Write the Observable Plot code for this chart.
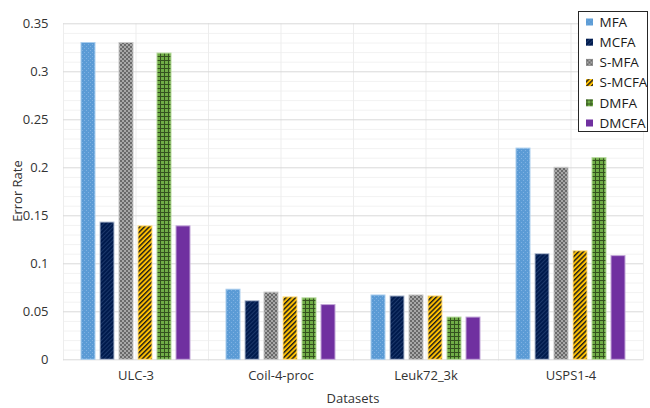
<!DOCTYPE html>
<html><head><meta charset="utf-8">
<script src="https://cdn.jsdelivr.net/npm/d3@7"></script>
<script src="https://cdn.jsdelivr.net/npm/@observablehq/plot@0.6"></script>
<style>
body{margin:0;background:#fff}
#chart{width:650px;height:408px}
</style>
</head><body><div id="chart"></div>
<script>
const datasets = ["ULC-3", "Coil-4-proc", "Leuk72_3k", "USPS1-4"];
const methods = ["MFA", "MCFA", "S-MFA", "S-MCFA", "DMFA", "DMCFA"];
const MFA    = [0.330, 0.073, 0.067, 0.220];
const MCFA   = [0.143, 0.061, 0.066, 0.110];
const S_MFA  = [0.330, 0.070, 0.067, 0.200];
const S_MCFA = [0.139, 0.065, 0.066, 0.113];
const DMFA   = [0.319, 0.064, 0.044, 0.210];
const DMCFA  = [0.139, 0.057, 0.044, 0.108];
const yTicks = [0, 0.05, 0.1, 0.15, 0.2, 0.25, 0.3, 0.35];
const yTickLabels = ["0", "0.05", "0.1", "0.15", "0.2", "0.25", "0.3", "0.35"];
const minorTicks = d3.range(0, 36).map(i => i / 100).filter(v => Math.round(v * 100) % 5 !== 0);

const series = [MFA, MCFA, S_MFA, S_MCFA, DMFA, DMCFA];
const rows = [];
datasets.forEach((ds, i) => methods.forEach((m, j) => rows.push({dataset: ds, method: m, value: series[j][i]})));

const fills = {
  "MFA": "url(#p-mfa)", "MCFA": "url(#p-mcfa)", "S-MFA": "url(#p-smfa)",
  "S-MCFA": "url(#p-smcfa)", "DMFA": "url(#p-dmfa)", "DMCFA": "#7030a0"
};
const strokes = {
  "MFA": "#a9cdee", "MCFA": "#b4bfd3", "S-MFA": "#c8c8c8",
  "S-MCFA": "#ffe08a", "DMFA": "#b5d99a", "DMCFA": "#c2a6d8"
};

const plot = Plot.plot({
  width: 650, height: 408,
  marginLeft: 63, marginRight: 7, marginTop: 23.3, marginBottom: 48.7,
  style: {fontFamily: "'Open Sans', sans-serif", fontSize: "13px", color: "#333333", background: "#fff", overflow: "visible"},
  fx: {domain: datasets, padding: 0, label: null, axis: null},
  x: {domain: methods, paddingInner: 0.25, paddingOuter: 0.875, axis: null},
  y: {domain: [0, 0.35], axis: null},
  marks: [
    Plot.ruleY(minorTicks, {stroke: "#f2f2f2", strokeWidth: 1}),
    Plot.frame({anchor: "left", stroke: "#ededed"}),
    Plot.frame({anchor: "right", stroke: "#ededed"}),
    Plot.ruleX({length: 1}, {x: null, stroke: "#ededed"}),
    Plot.ruleY(yTicks, {stroke: "#d9d9d9", strokeWidth: 1}),
    Plot.axisY({ticks: yTicks, tickFormat: (d) => yTickLabels[yTicks.indexOf(d)], tickSize: 0, tickPadding: 15, label: null, fontSize: 13}),
    Plot.axisFx({anchor: "bottom", tickSize: 0, tickPadding: 11, label: null, fontSize: 13}),
    Plot.barY(rows, {fx: "dataset", x: "method", y: "value", fill: d => fills[d.method], stroke: d => strokes[d.method], strokeWidth: 1})
  ]
});

const svg = d3.select(plot);
const defs = svg.insert("defs", ":first-child");
// MFA: blue with fine light dots
let p = defs.append("pattern").attr("id", "p-mfa").attr("patternUnits", "userSpaceOnUse").attr("width", 4).attr("height", 4);
p.append("rect").attr("width", 4).attr("height", 4).attr("fill", "#5b9bd5");
p.append("rect").attr("x", 0).attr("y", 0).attr("width", 1).attr("height", 1).attr("fill", "#7fb1e2");
p.append("rect").attr("x", 2).attr("y", 2).attr("width", 1).attr("height", 1).attr("fill", "#7fb1e2");
// MCFA: navy with diagonal stripes
p = defs.append("pattern").attr("id", "p-mcfa").attr("patternUnits", "userSpaceOnUse").attr("width", 3).attr("height", 3).attr("patternTransform", "rotate(45)");
p.append("rect").attr("width", 3).attr("height", 3).attr("fill", "#001a4d");
p.append("rect").attr("width", 1).attr("height", 3).attr("fill", "#1c386b");
// S-MFA: gray checkerboard
p = defs.append("pattern").attr("id", "p-smfa").attr("patternUnits", "userSpaceOnUse").attr("width", 4).attr("height", 4);
p.append("rect").attr("width", 4).attr("height", 4).attr("fill", "#a8a8a8");
p.append("rect").attr("width", 2).attr("height", 2).attr("fill", "#6a6a6a");
p.append("rect").attr("x", 2).attr("y", 2).attr("width", 2).attr("height", 2).attr("fill", "#6a6a6a");
// S-MCFA: orange with black diagonal stripes
p = defs.append("pattern").attr("id", "p-smcfa").attr("patternUnits", "userSpaceOnUse").attr("width", 3.4).attr("height", 3.4).attr("patternTransform", "rotate(45)");
p.append("rect").attr("width", 3.4).attr("height", 3.4).attr("fill", "#ffc000");
p.append("rect").attr("width", 1.4).attr("height", 3.4).attr("fill", "#1a1a1a");
// DMFA: green with dark grid
p = defs.append("pattern").attr("id", "p-dmfa").attr("patternUnits", "userSpaceOnUse").attr("width", 4).attr("height", 4);
p.append("rect").attr("width", 4).attr("height", 4).attr("fill", "#70ad47");
p.append("rect").attr("width", 4).attr("height", 1).attr("fill", "#34521f");
p.append("rect").attr("width", 1).attr("height", 4).attr("fill", "#34521f");

// axis titles
svg.append("text").attr("x", 353).attr("y", 403).attr("text-anchor", "middle")
  .attr("fill", "#333333").attr("font-size", 13).text("Datasets");
svg.append("text").attr("transform", "translate(22,191) rotate(-90)").attr("text-anchor", "middle")
  .attr("fill", "#333333").attr("font-size", 13).text("Error Rate");

// legend
const lg = svg.append("g").attr("transform", "translate(578.5,11.5)").attr("text-anchor", "start");
lg.append("rect").attr("width", 69).attr("height", 120).attr("fill", "#fff").attr("stroke", "#262626").attr("stroke-width", 1);
methods.forEach((m, i) => {
  const cy = 10.5 + i * 20.2;
  lg.append("rect").attr("x", 7.5).attr("y", cy - 3.5).attr("width", 7).attr("height", 7).attr("fill", fills[m]);
  lg.append("text").attr("x", 21).attr("y", cy).attr("dy", "0.36em").attr("text-anchor", "start").attr("fill", "#1a1a1a").attr("font-size", 13.5).text(m);
});

document.getElementById("chart").appendChild(plot);
</script>
</body></html>
